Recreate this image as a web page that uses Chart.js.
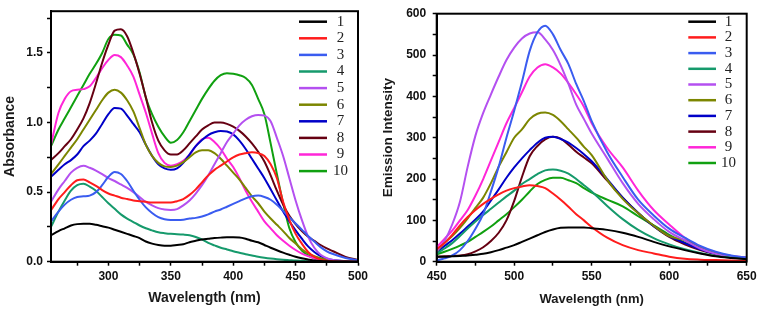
<!DOCTYPE html>
<html>
<head>
<meta charset="utf-8">
<script src="https://cdn.jsdelivr.net/npm/chart.js@4"></script>
<style>
  body { margin: 0; background: #fff; }
  #wrap { position: relative; width: 761px; height: 310px; }
  .panel { position: absolute; top: 0; height: 310px; }
</style>
</head>
<body>
<div id="wrap">
  <div class="panel" style="left:0;width:380px"><canvas id="absChart" width="380" height="310"></canvas></div>
  <div class="panel" style="left:380px;width:381px"><canvas id="emChart" width="381" height="310"></canvas></div>
</div>
<script>
// series names 1..10
const seriesNames = ['1', '2', '3', '4', '5', '6', '7', '8', '9', '10'];

// absorbance panel, wavelength (nm)
const absWl = [254, 260, 265, 270, 275, 280, 285, 290, 295, 300, 305, 310, 315, 320, 325, 330, 335, 340, 345, 350,
  355, 360, 365, 370, 375, 380, 385, 390, 395, 400, 405, 410, 415, 420, 425, 430, 435, 440, 445, 450,
  455, 460, 465, 470, 475, 480, 490, 500];
const abs1 = [0.19, 0.22, 0.24, 0.26, 0.27, 0.272, 0.272, 0.265, 0.255, 0.245, 0.23, 0.215, 0.20, 0.185, 0.17, 0.145, 0.13, 0.12, 0.115, 0.115,
  0.12, 0.125, 0.14, 0.15, 0.16, 0.165, 0.17, 0.173, 0.175, 0.175, 0.174, 0.165, 0.15, 0.14, 0.12, 0.10, 0.082, 0.065, 0.05, 0.036,
  0.025, 0.016, 0.008, 0.005, 0.003, 0.002, 0.001, 0];
const abs2 = [0.37, 0.45, 0.50, 0.55, 0.585, 0.59, 0.57, 0.545, 0.515, 0.49, 0.475, 0.46, 0.45, 0.44, 0.435, 0.43, 0.425, 0.425, 0.425, 0.425,
  0.435, 0.45, 0.48, 0.52, 0.57, 0.62, 0.66, 0.69, 0.72, 0.75, 0.77, 0.78, 0.786, 0.78, 0.76, 0.70, 0.60, 0.43, 0.30, 0.20,
  0.13, 0.07, 0.035, 0.015, 0.007, 0.004, 0.001, 0];
const abs3 = [0.29, 0.36, 0.41, 0.445, 0.465, 0.47, 0.475, 0.5, 0.55, 0.61, 0.645, 0.63, 0.58, 0.51, 0.445, 0.39, 0.35, 0.32, 0.305, 0.3,
  0.3, 0.302, 0.31, 0.315, 0.325, 0.34, 0.36, 0.375, 0.395, 0.415, 0.435, 0.455, 0.47, 0.475, 0.465, 0.445, 0.41, 0.365, 0.32, 0.275,
  0.23, 0.185, 0.145, 0.105, 0.075, 0.055, 0.027, 0.01];
const abs4 = [0.25, 0.36, 0.44, 0.51, 0.55, 0.56, 0.54, 0.51, 0.465, 0.42, 0.38, 0.34, 0.31, 0.285, 0.26, 0.24, 0.225, 0.212, 0.205, 0.2,
  0.198, 0.195, 0.19, 0.178, 0.16, 0.135, 0.117, 0.1, 0.088, 0.075, 0.064, 0.053, 0.045, 0.036, 0.029, 0.023, 0.018, 0.014, 0.011, 0.008,
  0.006, 0.004, 0.003, 0.002, 0.001, 0.001, 0, 0];
const abs5 = [0.43, 0.52, 0.58, 0.64, 0.675, 0.69, 0.675, 0.655, 0.63, 0.6, 0.58, 0.555, 0.53, 0.5, 0.465, 0.43, 0.405, 0.385, 0.375, 0.372,
  0.378, 0.405, 0.44, 0.49, 0.55, 0.62, 0.7, 0.78, 0.86, 0.92, 0.98, 1.02, 1.045, 1.055, 1.05, 1.01, 0.89, 0.76, 0.6, 0.44,
  0.3, 0.18, 0.1, 0.05, 0.025, 0.012, 0.003, 0];
const abs6 = [0.63, 0.7, 0.76, 0.82, 0.88, 0.95, 1.02, 1.09, 1.16, 1.215, 1.235, 1.215, 1.16, 1.08, 0.96, 0.84, 0.76, 0.71, 0.685, 0.68,
  0.69, 0.715, 0.75, 0.785, 0.8, 0.8, 0.78, 0.74, 0.69, 0.64, 0.59, 0.53, 0.47, 0.42, 0.36, 0.31, 0.265, 0.22, 0.17, 0.13,
  0.09, 0.06, 0.04, 0.025, 0.015, 0.009, 0.003, 0];
const abs7 = [0.61, 0.66, 0.7, 0.73, 0.77, 0.83, 0.87, 0.92, 0.99, 1.06, 1.105, 1.1, 1.05, 0.99, 0.93, 0.84, 0.76, 0.70, 0.67, 0.66,
  0.67, 0.71, 0.77, 0.83, 0.875, 0.91, 0.93, 0.94, 0.935, 0.915, 0.87, 0.81, 0.74, 0.67, 0.6, 0.52, 0.44, 0.36, 0.29, 0.225,
  0.165, 0.11, 0.07, 0.04, 0.022, 0.012, 0.004, 0];
const abs8 = [0.73, 0.78, 0.83, 0.88, 0.95, 1.03, 1.14, 1.28, 1.43, 1.56, 1.66, 1.67, 1.62, 1.5, 1.35, 1.18, 1.0, 0.87, 0.8, 0.77,
  0.77, 0.8, 0.85, 0.9, 0.95, 0.98, 1.0, 1.0, 0.99, 0.97, 0.94, 0.9, 0.85, 0.79, 0.72, 0.62, 0.51, 0.41, 0.33, 0.27,
  0.22, 0.18, 0.15, 0.12, 0.095, 0.075, 0.035, 0.012];
const abs9 = [0.84, 1.07, 1.17, 1.225, 1.235, 1.24, 1.26, 1.32, 1.39, 1.45, 1.485, 1.47, 1.41, 1.33, 1.2, 1.07, 0.92, 0.78, 0.71, 0.69,
  0.7, 0.725, 0.77, 0.83, 0.88, 0.89, 0.86, 0.81, 0.74, 0.68, 0.6, 0.51, 0.43, 0.36, 0.29, 0.24, 0.19, 0.15, 0.115, 0.084,
  0.058, 0.04, 0.025, 0.014, 0.008, 0.005, 0.002, 0];
const abs10 = [0.83, 0.95, 1.03, 1.11, 1.19, 1.27, 1.35, 1.42, 1.5, 1.6, 1.63, 1.625, 1.56, 1.49, 1.36, 1.18, 1.06, 0.97, 0.9, 0.855,
  0.875, 0.93, 1.01, 1.09, 1.17, 1.24, 1.3, 1.34, 1.355, 1.35, 1.34, 1.32, 1.27, 1.17, 1.06, 0.85, 0.63, 0.42, 0.24, 0.14,
  0.08, 0.045, 0.025, 0.013, 0.007, 0.004, 0.001, 0];
const absXTicks = [275, 300, 325, 350, 375, 400, 425, 450, 475, 500];
const absYTicks = [0, 0.25, 0.5, 0.75, 1.0, 1.25, 1.5, 1.75];

// emission panel
const emWl = [450, 455, 460, 465, 470, 475, 480, 485, 490, 495, 500, 505, 510, 515, 520, 525, 530, 535, 540, 545,
  550, 560, 570, 580, 590, 600, 610, 620, 630, 640, 650];
const em1 = [12, 12, 13, 14, 15, 17, 19, 23, 28, 34, 40, 48, 56, 64, 72, 78, 82, 83, 83, 83, 81, 77, 70, 60, 48, 37, 28, 20, 13, 9, 6];
const em2 = [30, 45, 65, 88, 108, 125, 140, 152, 163, 172, 178, 182, 185, 183, 178, 165, 150, 133, 115, 100, 84, 58, 40, 28, 20, 12, 7, 5, 4, 3, 2];
const em3 = [3, 8, 15, 28, 50, 80, 115, 170, 230, 300, 365, 435, 510, 555, 571, 550, 512, 478, 430, 388, 340, 265, 205, 150, 112, 80, 58, 38, 24, 15, 10];
const em4 = [20, 32, 45, 62, 80, 97, 113, 128, 143, 158, 172, 188, 200, 212, 221, 223, 220, 213, 200, 185, 170, 135, 103, 77, 57, 42, 30, 21, 14, 10, 7];
const em5 = [25, 50, 90, 145, 230, 305, 360, 405, 448, 488, 518, 540, 552, 555, 538, 512, 475, 430, 380, 345, 310, 250, 190, 140, 103, 72, 52, 32, 19, 12, 8];
const em6 = [25, 45, 62, 82, 105, 130, 155, 190, 230, 265, 300, 320, 345, 358, 361, 355, 340, 320, 300, 278, 258, 198, 152, 117, 87, 62, 52, 35, 20, 12, 8];
const em7 = [22, 38, 52, 68, 85, 102, 122, 148, 175, 203, 228, 250, 270, 288, 300, 302, 297, 288, 275, 260, 243, 200, 155, 118, 86, 62, 45, 30, 19, 12, 8];
const em8 = [12, 13, 14, 15, 18, 25, 35, 50, 70, 100, 147, 205, 255, 280, 296, 302, 298, 283, 266, 252, 238, 196, 155, 118, 86, 60, 42, 28, 18, 12, 8];
const em9 = [35, 55, 75, 100, 125, 160, 200, 245, 290, 335, 372, 410, 448, 470, 478, 470, 455, 432, 405, 375, 335, 275, 228, 172, 125, 90, 58, 35, 22, 14, 10];
const em10 = [18, 24, 31, 39, 48, 60, 72, 85, 100, 115, 132, 150, 170, 188, 198, 203, 203, 197, 190, 178, 167, 150, 134, 110, 88, 65, 46, 32, 22, 14, 9];
const emXTicks = [450, 475, 500, 525, 550, 575, 600, 625, 650];
const emYTicks = [0, 50, 100, 150, 200, 250, 300, 350, 400, 450, 500, 550, 600];

const seriesColors = ['#000000', '#ff1c1c', '#3a5cf0', '#169a6c', '#b450f0', '#7c8600', '#0000c8', '#660012', '#ff26d8', '#10a010'];

const tickFont = { family: 'Liberation Sans', weight: 'bold', size: 12 };

const frameLegend = {
  id: 'frameLegend',
  afterDatasetsDraw(chart, args, opts) {
    const ctx = chart.ctx, a = chart.chartArea;
    ctx.save();
    ctx.strokeStyle = '#000';
    ctx.lineWidth = 2;
    ctx.strokeRect(a.left, a.top, a.right - a.left, a.bottom - a.top);
    ctx.font = '15px "Liberation Serif"';
    ctx.textAlign = 'center';
    ctx.textBaseline = 'middle';
    chart.data.datasets.forEach((ds, i) => {
      const y = opts.y0 + i * opts.dy;
      ctx.strokeStyle = ds.borderColor;
      ctx.lineWidth = 2.5;
      ctx.beginPath();
      ctx.moveTo(opts.x0, y);
      ctx.lineTo(opts.x1, y);
      ctx.stroke();
      ctx.fillStyle = '#222';
      ctx.fillText(ds.label, opts.tx, y);
    });
    ctx.restore();
  }
};

function buildSets(xs, series) {
  return series.map((vals, i) => ({
    label: seriesNames[i],
    data: vals.map((y, j) => ({ x: xs[j], y: y })),
    borderColor: seriesColors[i],
    borderWidth: 2,
    pointRadius: 0,
    fill: false,
    cubicInterpolationMode: 'monotone'
  }));
}

function axis(o) {
  return {
    type: 'linear',
    min: o.min,
    max: o.max,
    afterBuildTicks: s => { s.ticks = o.ticks.map(v => ({ value: v })); },
    afterFit: s => { if (o.width) s.width = o.width; if (o.height) s.height = o.height; },
    ticks: { callback: o.label, font: tickFont, color: '#111', padding: o.pad, maxRotation: 0, autoSkip: false },
    grid: { drawOnChartArea: false, drawTicks: true, tickLength: 4, tickColor: '#000', tickWidth: 1.5 },
    border: { color: '#000', width: 2 },
    title: { display: true, text: o.title, color: '#1a1a1a', font: { family: 'Liberation Sans', weight: 'bold', size: o.tsize }, padding: o.tpad }
  };
}

new Chart(document.getElementById('absChart'), {
  type: 'line',
  data: { datasets: buildSets(absWl, [abs1, abs2, abs3, abs4, abs5, abs6, abs7, abs8, abs9, abs10]) },
  options: {
    responsive: false,
    animation: false,
    layout: { padding: { left: 0, right: 22, top: 8, bottom: 0 } },
    plugins: {
      legend: { display: false },
      tooltip: { enabled: false },
      frameLegend: { x0: 299, x1: 327, tx: 340.5, y0: 21.7, dy: 16.6 }
    },
    scales: {
      x: axis({ min: 254, max: 500, ticks: absXTicks, label: v => (v % 50 === 0 ? v : ''), pad: 4, height: 48.3,
        title: 'Wavelength (nm)', tsize: 14, tpad: { top: 0, bottom: 3 } }),
      y: axis({ min: 0, max: 1.8, ticks: absYTicks, label: v => (Math.abs(v * 2 - Math.round(v * 2)) < 1e-6 ? v.toFixed(1) : ''), pad: 4, width: 51,
        title: 'Absorbance', tsize: 14, tpad: { top: 1.6, bottom: 0 } })
    }
  },
  plugins: [frameLegend]
});

new Chart(document.getElementById('emChart'), {
  type: 'line',
  data: { datasets: buildSets(emWl, [em1, em2, em3, em4, em5, em6, em7, em8, em9, em10]) },
  options: {
    responsive: false,
    animation: false,
    layout: { padding: { left: 0, right: 14.3, top: 6.7, bottom: 0 } },
    plugins: {
      legend: { display: false },
      tooltip: { enabled: false },
      frameLegend: { x0: 308.3, x1: 336, tx: 348.5, y0: 21.7, dy: 15.7 }
    },
    scales: {
      x: axis({ min: 450, max: 650, ticks: emXTicks, label: v => (v % 50 === 0 ? v : ''), pad: 4, height: 48.3,
        title: 'Wavelength (nm)', tsize: 13, tpad: { top: 0, bottom: 3 } }),
      y: axis({ min: 0, max: 600, ticks: emYTicks, label: v => (v % 100 === 0 ? v : ''), pad: 6.5, width: 56.7,
        title: 'Emission Intensity', tsize: 13.5, tpad: { top: 0.2, bottom: 0 } })
    }
  },
  plugins: [frameLegend]
});
</script>
</body>
</html>
